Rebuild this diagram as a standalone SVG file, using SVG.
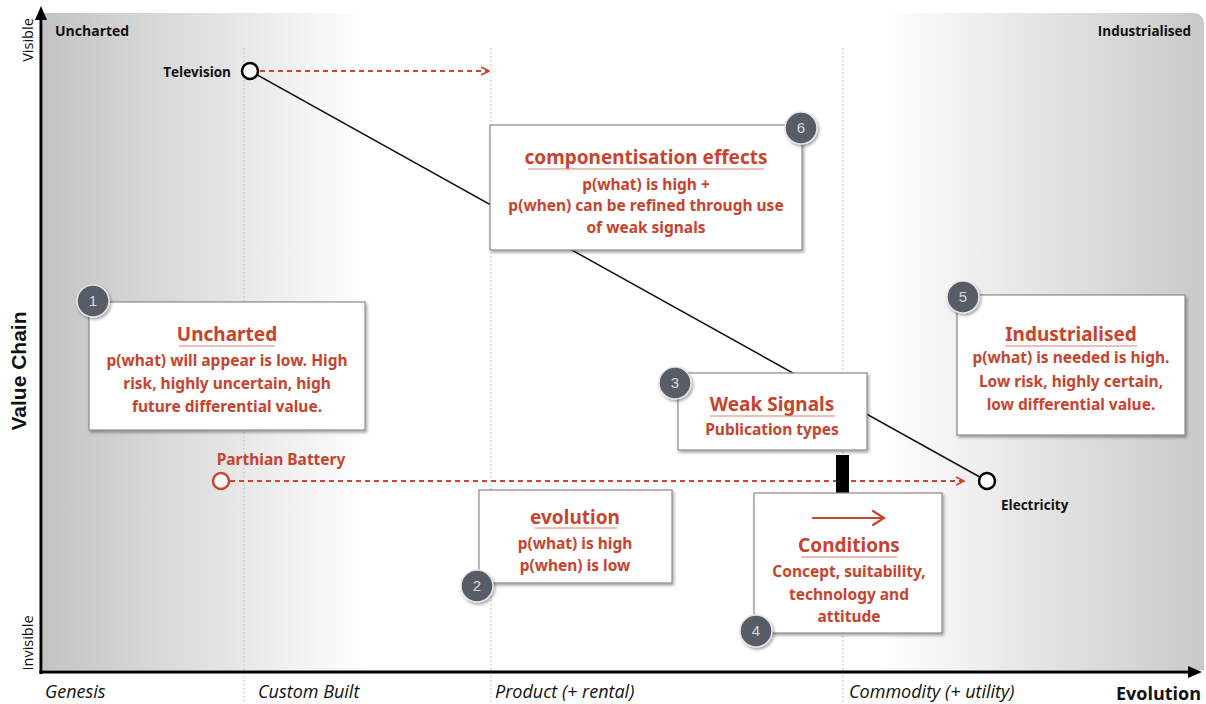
<svg xmlns="http://www.w3.org/2000/svg" width="1206" height="704" viewBox="0 0 1206 704">
<defs>
<linearGradient id="bg" x1="0" y1="0" x2="1" y2="0">
<stop offset="0" stop-color="#c3c3c3"/>
<stop offset="0.28" stop-color="#ffffff"/>
<stop offset="0.72" stop-color="#ffffff"/>
<stop offset="1" stop-color="#c9c9c9"/>
</linearGradient>
<filter id="sh" x="-10%" y="-10%" width="130%" height="130%">
<feDropShadow dx="1.5" dy="2" stdDeviation="1.5" flood-color="#000" flood-opacity="0.35"/>
</filter>
<marker id="ra" viewBox="0 0 10 10" refX="9" refY="5" markerWidth="10" markerHeight="10" orient="auto" markerUnits="userSpaceOnUse">
<path d="M1,1 L9,5 L1,9" fill="none" stroke="#d0452f" stroke-width="1.6"/>
</marker>
</defs>
<style>
.dot{stroke:#b8b8b8;stroke-width:1;stroke-dasharray:1.5 2.5;fill:none}
.box{fill:#fff;stroke:#8a8a8a;stroke-width:1.2;filter:url(#sh)}
.rt{font-family:"Noto Sans",sans-serif;font-weight:bold;fill:#c8432d;text-anchor:middle}
.t{font-size:19px}
.b{font-size:15.5px}
.ul{stroke:#d8826f;stroke-width:1.2}
.badge{fill:#585c66;stroke:#e6e6e6;stroke-width:1.5;filter:url(#sh)}
.bn{font-family:"Liberation Sans",sans-serif;font-size:15px;fill:#d8d8d8;text-anchor:middle}
.ax{font-family:"Open Sans",sans-serif;fill:#111}
.it{font-family:"Open Sans",sans-serif;font-style:italic;font-size:18px;fill:#111}
.red{stroke:#d0452f;stroke-width:2;stroke-dasharray:5 4;fill:none}
</style>
<g id="background">
<path d="M43,13 H1194 a10,10 0 0 1 10,10 V670 H43 Z" fill="url(#bg)"/>
<line class="dot" x1="244" y1="48" x2="244" y2="704"/>
<line class="dot" x1="491" y1="48" x2="491" y2="704"/>
<line class="dot" x1="843" y1="48" x2="843" y2="704"/>
</g>
<g id="axes">
<line x1="41" y1="674" x2="41" y2="16" stroke="#000" stroke-width="3"/>
<path d="M41,6 L47,20 L35,20 Z" fill="#000"/>
<line x1="39.5" y1="672" x2="1190" y2="672" stroke="#000" stroke-width="3"/>
<path d="M1202,672 L1188,666 L1188,678 Z" fill="#000"/>
<text class="ax" x="55" y="36" font-size="14" font-weight="bold">Uncharted</text>
<text class="ax" x="1191" y="36" font-size="13.5" font-weight="bold" text-anchor="end">Industrialised</text>
<text class="ax" font-size="14.5" transform="translate(33,40) rotate(-90)" text-anchor="middle">Visible</text>
<text class="ax" font-size="14.5" transform="translate(33,643) rotate(-90)" text-anchor="middle">Invisible</text>
<text font-family="Liberation Sans,sans-serif" font-weight="bold" font-size="21" fill="#111" transform="translate(26,371) rotate(-90)" text-anchor="middle">Value Chain</text>
<text class="it" x="45" y="698">Genesis</text>
<text class="it" x="258" y="698">Custom Built</text>
<text class="it" x="495" y="698">Product (+ rental)</text>
<text class="it" x="849" y="698">Commodity (+ utility)</text>
<text class="ax" x="1201" y="700" font-size="18" font-weight="bold" text-anchor="end">Evolution</text>
</g>
<g id="connectors">
<line x1="250" y1="71" x2="987" y2="481" stroke="#111" stroke-width="1.5"/>
<line class="red" x1="260" y1="71" x2="489" y2="71" marker-end="url(#ra)"/>
<line class="red" x1="230" y1="481" x2="964" y2="481" marker-end="url(#ra)"/>
<rect x="836" y="455" width="13" height="52" fill="#000"/>
</g>
<g id="television">
<circle cx="250" cy="71" r="8" fill="#fff" stroke="#000" stroke-width="2.5"/>
<text class="ax" x="231" y="73" font-size="13.5" font-weight="bold" text-anchor="end" dominant-baseline="middle">Television</text>
</g>
<g id="electricity">
<circle cx="987" cy="481" r="8" fill="#fff" stroke="#000" stroke-width="2.5"/>
<text class="ax" x="1001" y="510" font-size="13.5" font-weight="bold">Electricity</text>
</g>
<g id="parthian-battery">
<circle cx="221" cy="481" r="8" fill="#fff" stroke="#d0452f" stroke-width="2.5"/>
<text class="rt" x="281" y="465" font-size="15.5">Parthian Battery</text>
</g>
<g id="box1">
<rect class="box" x="89" y="302" width="276" height="128"/>
<text class="rt t" x="227" y="341">Uncharted</text>
<line class="ul" x1="179" y1="346" x2="275" y2="346"/>
<text class="rt b" x="227" y="366">p(what) will appear is low. High</text>
<text class="rt b" x="227" y="389">risk, highly uncertain, high</text>
<text class="rt b" x="227" y="412">future differential value.</text>
<circle class="badge" cx="93" cy="301" r="16"/>
<text class="bn" x="93" y="306">1</text>
</g>
<g id="box6">
<rect class="box" x="490" y="125" width="312" height="125"/>
<text class="rt t" x="646" y="164">componentisation effects</text>
<line class="ul" x1="528" y1="169" x2="764" y2="169"/>
<text class="rt b" x="646" y="190">p(what) is high +</text>
<text class="rt b" x="646" y="211">p(when) can be refined through use</text>
<text class="rt b" x="646" y="233">of weak signals</text>
<circle class="badge" cx="801" cy="128" r="16"/>
<text class="bn" x="801" y="133">6</text>
</g>
<g id="box5">
<rect class="box" x="957" y="295" width="228" height="140"/>
<text class="rt t" x="1071" y="341">Industrialised</text>
<line class="ul" x1="1005" y1="346" x2="1137" y2="346"/>
<text class="rt b" x="1071" y="363">p(what) is needed is high.</text>
<text class="rt b" x="1071" y="387">Low risk, highly certain,</text>
<text class="rt b" x="1071" y="410">low differential value.</text>
<circle class="badge" cx="963" cy="297" r="16"/>
<text class="bn" x="963" y="302">5</text>
</g>
<g id="box3">
<rect class="box" x="678" y="373" width="189" height="77"/>
<text class="rt t" x="772" y="411">Weak Signals</text>
<line class="ul" x1="710" y1="416" x2="835" y2="416"/>
<text class="rt b" x="772" y="435">Publication types</text>
<circle class="badge" cx="675" cy="383" r="16"/>
<text class="bn" x="675" y="388">3</text>
</g>
<g id="box2">
<rect class="box" x="479" y="490" width="193" height="93"/>
<text class="rt t" x="575" y="524">evolution</text>
<line class="ul" x1="535" y1="528" x2="617" y2="528"/>
<text class="rt b" x="575" y="549">p(what) is high</text>
<text class="rt b" x="575" y="571">p(when) is low</text>
<circle class="badge" cx="477" cy="586" r="16"/>
<text class="bn" x="477" y="591">2</text>
</g>
<g id="box4">
<rect class="box" x="754" y="493" width="188" height="140"/>
<path d="M813,518 H883 M873,511 L884,518 L873,525" fill="none" stroke="#c8432d" stroke-width="2.2" stroke-linecap="round"/>
<text class="rt t" x="849" y="552">Conditions</text>
<line class="ul" x1="801" y1="557" x2="897" y2="557"/>
<text class="rt b" x="849" y="577">Concept, suitability,</text>
<text class="rt b" x="849" y="600">technology and</text>
<text class="rt b" x="849" y="622">attitude</text>
<circle class="badge" cx="756" cy="631" r="16"/>
<text class="bn" x="756" y="636">4</text>
</g>
</svg>
